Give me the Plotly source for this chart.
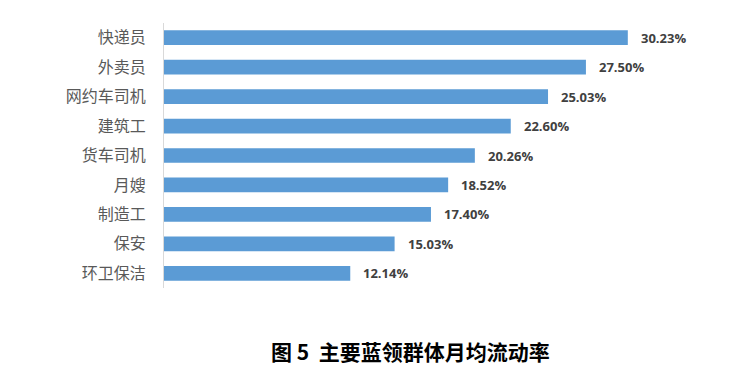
import plotly.graph_objects as go

categories = ["快递员", "外卖员", "网约车司机", "建筑工", "货车司机", "月嫂", "制造工", "保安", "环卫保洁"]
values = [30.23, 27.50, 25.03, 22.60, 20.26, 18.52, 17.40, 15.03, 12.14]
labels = [f"{v:.2f}%" for v in values]
title = "图 5  主要蓝领群体月均流动率"

W, H = 750, 385
ML, MR, MT, MB = 164, 49, 23, 97

fig = go.Figure(go.Bar(
    x=values, y=categories, orientation="h",
    marker=dict(color="#5B9BD5", line=dict(width=0)),
    hoverinfo="x+y",
))

annotations = [
    dict(x=v, y=c, xref="x", yref="y", text=t, showarrow=False,
         xanchor="left", yanchor="middle", xshift=11,
         font=dict(family="Open Sans, Noto Sans", size=13, color="#404040", weight="bold"))
    for v, c, t in zip(values, categories, labels)
]
annotations.append(dict(
    text=title, xref="paper", yref="paper",
    x=(410 - ML) / (W - ML - MR), y=(H - MB - 351) / (H - MT - MB),
    xanchor="center", yanchor="middle", showarrow=False,
    font=dict(family="Noto Sans CJK SC", size=21, color="#000000", weight="bold"),
))

fig.update_layout(
    width=W, height=H,
    margin=dict(l=ML, r=MR, t=MT, b=MB, autoexpand=False),
    paper_bgcolor="white", plot_bgcolor="white",
    bargap=0.5, showlegend=False,
    xaxis=dict(range=[0, 35], visible=False, fixedrange=True),
    yaxis=dict(categoryorder="array", categoryarray=categories[::-1],
               showline=True, linecolor="#D9D9D9", linewidth=1,
               ticks="", ticklabelstandoff=14, showgrid=False, automargin=False,
               tickfont=dict(family="Noto Sans CJK SC", size=16, color="#595959")),
    annotations=annotations,
)

fig.write_html("out.html", config={"displayModeBar": False},
               post_script="document.body.style.margin='0';document.body.style.overflow='hidden';")
